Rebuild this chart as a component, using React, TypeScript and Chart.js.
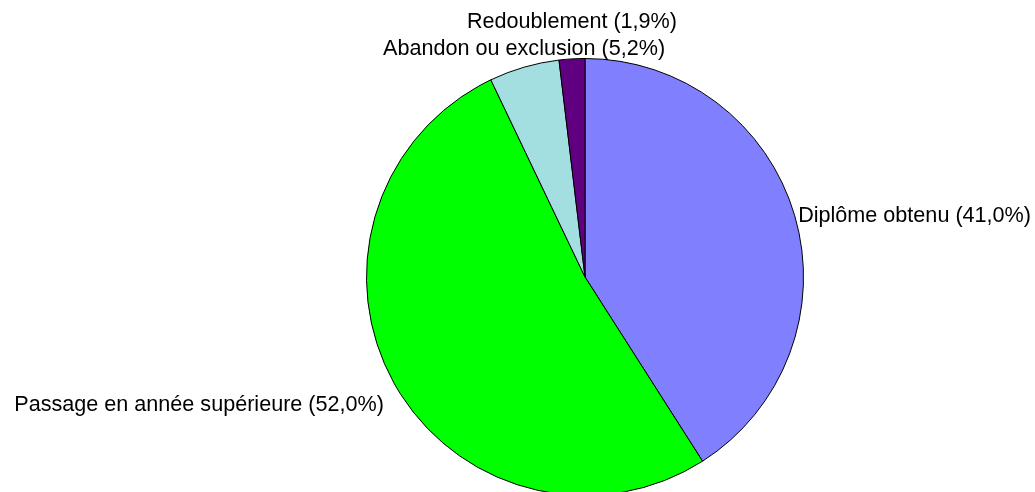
import React, { useEffect, useRef } from "react";
import { Chart, registerables } from "chart.js";

Chart.register(...registerables);

const categories = [
  "Diplôme obtenu",
  "Passage en année supérieure",
  "Abandon ou exclusion",
  "Redoublement",
];
const shares = [41.0, 52.0, 5.2, 1.9];
const sliceColors = ["#8080FF", "#00FF00", "#A3DFE0", "#600080"];

const FONT = '21.6px "Liberation Sans", Arial, sans-serif';

const fmt = (label: string, v: number) =>
  `${label} (${v.toFixed(1).replace(".", ",")}%)`;

const outLabels = {
  id: "outLabels",
  afterDatasetsDraw(chart: any) {
    const meta = chart.getDatasetMeta(0);
    const ctx = chart.ctx as CanvasRenderingContext2D;
    const labels = chart.data.labels as string[];
    const values = chart.data.datasets[0].data as number[];
    ctx.save();
    ctx.font = FONT;
    ctx.fillStyle = "#000";
    ctx.textBaseline = "alphabetic";
    ctx.textAlign = "left";
    const boxH = 27;
    const baseOff = 20;
    const placed: { l: number; t: number; w: number; h: number }[] = [];
    meta.data.forEach((arc: any, i: number) => {
      const { x, y, startAngle, endAngle, outerRadius } = arc.getProps(
        ["x", "y", "startAngle", "endAngle", "outerRadius"],
        true
      );
      const mid = (startAngle + endAngle) / 2;
      const dx = Math.cos(mid);
      const dy = Math.sin(mid);
      const px = x + dx * outerRadius;
      const py = y + dy * outerRadius;
      const text = fmt(labels[i], values[i]);
      const w = ctx.measureText(text).width;
      let box: { l: number; t: number; w: number; h: number };
      if (Math.abs(dx) >= Math.abs(dy)) {
        const left = dx > 0 ? px + 10 : px - 10 - w;
        const cy = py + Math.max(0, dy) * 44;
        box = { l: left, t: cy - boxH / 2, w, h: boxH };
      } else if (dy < 0) {
        box = { l: px - w / 2, t: py - 5 - boxH, w, h: boxH };
      } else {
        box = { l: px - w / 2, t: py + 5, w, h: boxH };
      }
      // keep inside the canvas
      const maxRight = chart.width - 4;
      if (box.l + box.w > maxRight) box.l = maxRight - box.w;
      if (box.l < 4) box.l = 4;
      // resolve collisions by pushing the label outward vertically
      let moved = true;
      let guard = 0;
      while (moved && guard++ < 20) {
        moved = false;
        for (const p of placed) {
          const overlapX = box.l < p.l + p.w && box.l + box.w > p.l;
          const overlapY = box.t < p.t + p.h && box.t + box.h > p.t;
          if (overlapX && overlapY) {
            if (dy < 0) box.t = p.t - box.h;
            else box.t = p.t + p.h;
            moved = true;
          }
        }
      }
      placed.push(box);
      ctx.fillText(text, box.l, box.t + baseOff);
    });
    ctx.restore();
  },
};

export default function App() {
  const ref = useRef<HTMLCanvasElement | null>(null);

  useEffect(() => {
    document.body.style.margin = "0";
    document.body.style.overflow = "hidden";
    if (!ref.current) return;
    const chart = new Chart(ref.current, {
      type: "pie",
      data: {
        labels: categories,
        datasets: [
          {
            data: shares,
            backgroundColor: sliceColors,
            borderColor: "#000000",
            borderWidth: 1,
          },
        ],
      },
      options: {
        responsive: false,
        animation: false,
        layout: { padding: { left: 366, right: 231, top: 58, bottom: 4 } },
        plugins: {
          legend: { display: false },
          tooltip: { enabled: false },
        },
      },
      plugins: [outLabels],
    });
    return () => chart.destroy();
  }, []);

  return (
    <div style={{ width: 1035, height: 492, overflow: "hidden", background: "#fff" }}>
      <canvas ref={ref} width={1035} height={500} style={{ display: "block", width: 1035, height: 500 }} />
    </div>
  );
}
